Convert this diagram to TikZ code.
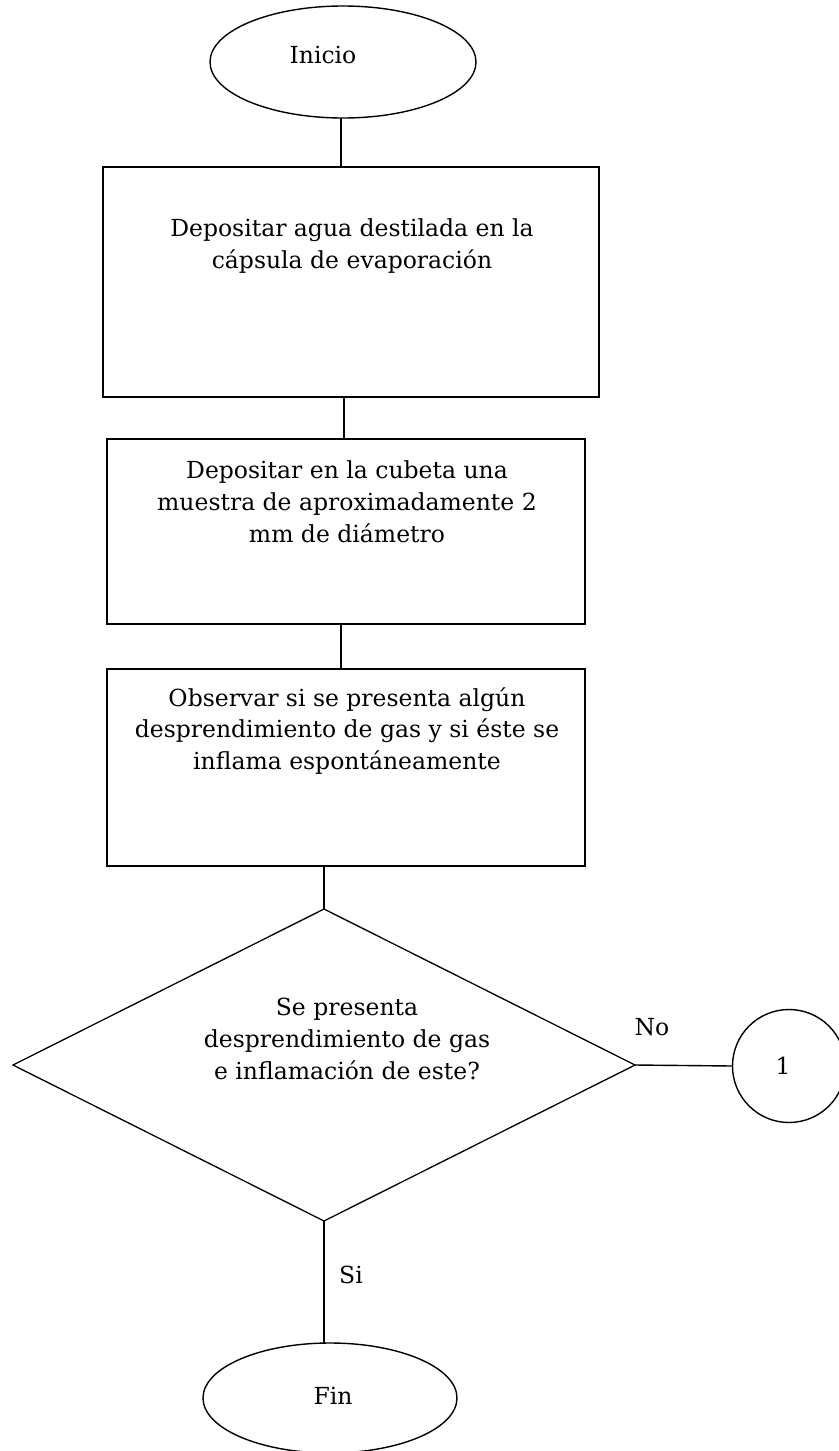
\documentclass[tikz,border=0pt]{standalone}
\usepackage{fontspec}
\setmainfont{DejaVu Serif}
\usetikzlibrary{shapes.geometric}
\begin{document}
\begin{tikzpicture}[x=1pt,y=-1pt,
  every node/.style={inner sep=0pt, outer sep=0pt},
  txt/.style={font=\fontsize{23.5}{31.8}\selectfont, align=center},
  stepbox/.style={draw, line width=1.6pt, rectangle},
  term/.style={draw, line width=1.4pt, ellipse},
  decision/.style={draw, line width=1.3pt, diamond},
  conn/.style={line width=1.4pt}]
\useasboundingbox (0,0) rectangle (838,1451);

% shapes
\node[term, minimum width=266pt, minimum height=112pt] (ini) at (343,62) {};
\node[stepbox, minimum width=496pt, minimum height=230pt] (b1) at (351,282) {};
\node[stepbox, minimum width=478pt, minimum height=185pt] (b2) at (346,531.5) {};
\node[stepbox, minimum width=478pt, minimum height=197pt] (b3) at (346,767.5) {};
\node[decision, minimum width=622pt, minimum height=312pt] (d) at (324,1065) {};
\node[term, minimum width=113pt, minimum height=113pt] (c1) at (789,1066) {};
\node[term, minimum width=254pt, minimum height=110pt] (fin) at (330,1398) {};

% texts
\node[txt, anchor=base] (tini) at (323,63) {Inicio};
\node[txt] (t1) at (352,246) {Depositar agua destilada en la\\cápsula de evaporación};
\node[txt] (t2) at (347,502) {Depositar en la cubeta una\\muestra de aproximadamente 2\\mm de diámetro};
\node[txt] (t3) at (347,731) {Observar si se presenta algún\\desprendimiento de gas y si éste se\\inflama espontáneamente};
\node[txt] (td) at (347,1039) {Se presenta\\desprendimiento de gas\\e inflamación de este?};
\node[txt, anchor=base] (t1c) at (783,1074) {1};
\node[txt, anchor=base] (tfin) at (333,1404) {Fin};
\node[txt, anchor=base] (tno) at (652,1035) {No};
\node[txt, anchor=base] (tsi) at (351,1283) {Si};

% connectors
\draw[conn] ([xshift=-2pt]ini.south) -- ([xshift=-2pt]ini.south |- b1.north);
\draw[conn] ([xshift=-2pt]b2.north) -- ([xshift=-2pt]b2.north |- b1.south);
\draw[conn] ([xshift=-5pt]b3.north) -- ([xshift=-5pt]b3.north |- b2.south);
\draw[conn] (d.north) -- (d.north |- b3.south);
\draw[conn] (d.east) -- (c1.west);
\draw[conn] (d.south) -- (d.south |- fin.north);
\end{tikzpicture}
\end{document}
